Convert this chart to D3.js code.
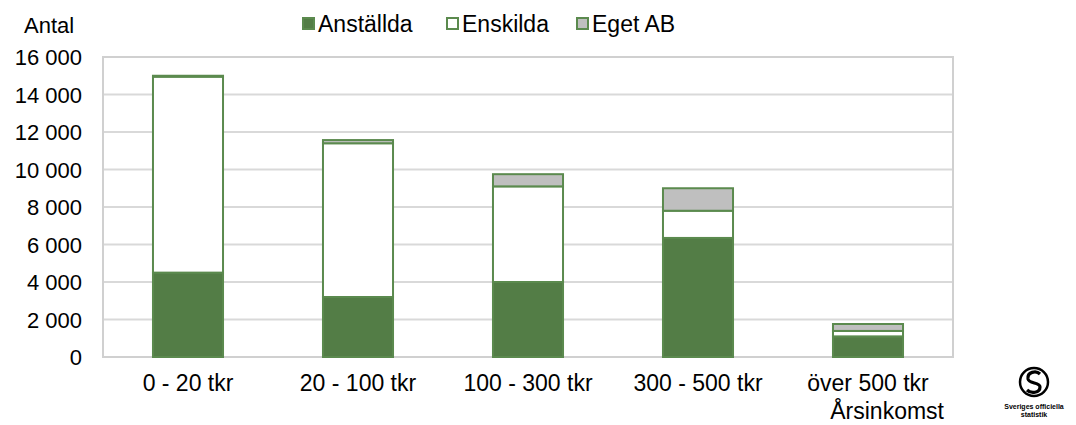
<!DOCTYPE html>
<html>
<head>
<meta charset="utf-8">
<script src="https://cdn.jsdelivr.net/npm/d3@7"></script>
<style>
  body { margin: 0; background: #fff; }
  text { font-family: "Liberation Sans", Arial, sans-serif; fill: #000; }
</style>
</head>
<body>
<div id="chart"></div>
<script>
'use strict';

var categories = ["0 - 20 tkr", "20 - 100 tkr", "100 - 300 tkr", "300 - 500 tkr", "över 500 tkr"];
var anstallda = [4500, 3200, 4000, 6350, 1100];
var enskilda = [10450, 8200, 5100, 1450, 290];
var egetAB = [50, 170, 650, 1200, 370];
var seriesNames = ["Anställda", "Enskilda", "Eget AB"];
var yTicks = [0, 2000, 4000, 6000, 8000, 10000, 12000, 14000, 16000];

var width = 1076, height = 425;
var margin = {top: 57, right: 123, bottom: 68, left: 103};
var green = "#537D46";
var stroke = "#5B8A4E";
var gray = "#BFBFBF";
var fontSize = "22px";
var bigFont = "23px";

var svg = d3.select("#chart").append("svg")
    .attr("width", width)
    .attr("height", height);

var x = d3.scaleBand()
    .domain(categories)
    .range([margin.left, width - margin.right])
    .paddingInner(0.588)
    .paddingOuter(0.294);

var y = d3.scaleLinear()
    .domain([0, 16000])
    .range([height - margin.bottom, margin.top]);

// gridlines
svg.append("g")
  .selectAll("line")
  .data(yTicks)
  .enter().append("line")
    .attr("x1", margin.left)
    .attr("x2", width - margin.right)
    .attr("y1", function(d) { return y(d); })
    .attr("y2", function(d) { return y(d); })
    .attr("stroke", "#D9D9D9")
    .attr("stroke-width", 2);

// frame
svg.append("rect")
    .attr("x", margin.left)
    .attr("y", margin.top)
    .attr("width", width - margin.right - margin.left)
    .attr("height", height - margin.bottom - margin.top)
    .attr("fill", "none")
    .attr("stroke", "#D0D0D0")
    .attr("stroke-width", 2);

// stacked bars
var rows = categories.map(function(c, i) {
    return {cat: c, a: anstallda[i], e: enskilda[i], g: egetAB[i]};
});
var stack = d3.stack().keys(["a", "e", "g"]);
var layers = stack(rows);
var fills = [green, "#FFFFFF", gray];

layers.forEach(function(layer, li) {
    svg.append("g")
      .selectAll("rect")
      .data(layer)
      .enter().append("rect")
        .attr("x", function(d) { return x(d.data.cat); })
        .attr("width", x.bandwidth())
        .attr("y", function(d) { return y(d[1]); })
        .attr("height", function(d) { return y(d[0]) - y(d[1]); })
        .attr("fill", fills[li])
        .attr("stroke", stroke)
        .attr("stroke-width", 2);
});

// y axis labels
var yAxis = d3.axisLeft(y)
    .tickValues(yTicks)
    .tickSize(0)
    .tickPadding(21)
    .tickFormat(function(d) { return d3.format(",")(d).replace(",", " "); });
var gy = svg.append("g")
    .attr("transform", "translate(" + margin.left + ",0)")
    .call(yAxis);
gy.select(".domain").remove();
gy.selectAll("text")
    .style("font-family", '"Liberation Sans", Arial, sans-serif')
    .style("font-size", fontSize)
    .attr("dy", "0.35em")
    .attr("fill", "#000");

// x axis labels
var xAxis = d3.axisBottom(x).tickSize(0).tickPadding(18);
var gx = svg.append("g")
    .attr("transform", "translate(0," + (height - margin.bottom) + ")")
    .call(xAxis);
gx.select(".domain").remove();
gx.selectAll("text")
    .style("font-family", '"Liberation Sans", Arial, sans-serif')
    .style("font-size", bigFont)
    .attr("fill", "#000");

svg.append("text")
    .attr("x", 24)
    .attr("y", 33)
    .style("font-size", fontSize)
    .text("Antal");

svg.append("text")
    .attr("x", 944)
    .attr("y", 419)
    .attr("text-anchor", "end")
    .style("font-size", bigFont)
    .text("Årsinkomst");

// legend
var legendX = [302, 446, 576];
var legend = svg.append("g");
seriesNames.forEach(function(name, i) {
    legend.append("rect")
        .attr("x", legendX[i] + 1)
        .attr("y", 18)
        .attr("width", 11)
        .attr("height", 11)
        .attr("fill", fills[i])
        .attr("stroke", stroke)
        .attr("stroke-width", 2);
    legend.append("text")
        .attr("x", legendX[i] + 16)
        .attr("y", 32)
        .style("font-size", bigFont)
        .text(name);
});

// logo
var logo = svg.append("g").attr("transform", "translate(1034,382)");
logo.append("circle")
    .attr("r", 14)
    .attr("fill", "none")
    .attr("stroke", "#000")
    .attr("stroke-width", 2.5);
logo.append("path")
    .attr("d", "M6,-8 C2,-12 -7,-10 -6,-3 C-5,2 6,0 6,5 C6,11 -3,12 -7,8")
    .attr("fill", "none")
    .attr("stroke", "#000")
    .attr("stroke-width", 3.2);
logo.append("text")
    .attr("y", 27)
    .attr("text-anchor", "middle")
    .style("font-size", "7px")
    .style("font-weight", "bold")
    .text("Sveriges officiella");
logo.append("text")
    .attr("y", 35)
    .attr("text-anchor", "middle")
    .style("font-size", "7px")
    .style("font-weight", "bold")
    .text("statistik");
</script>
</body>
</html>
